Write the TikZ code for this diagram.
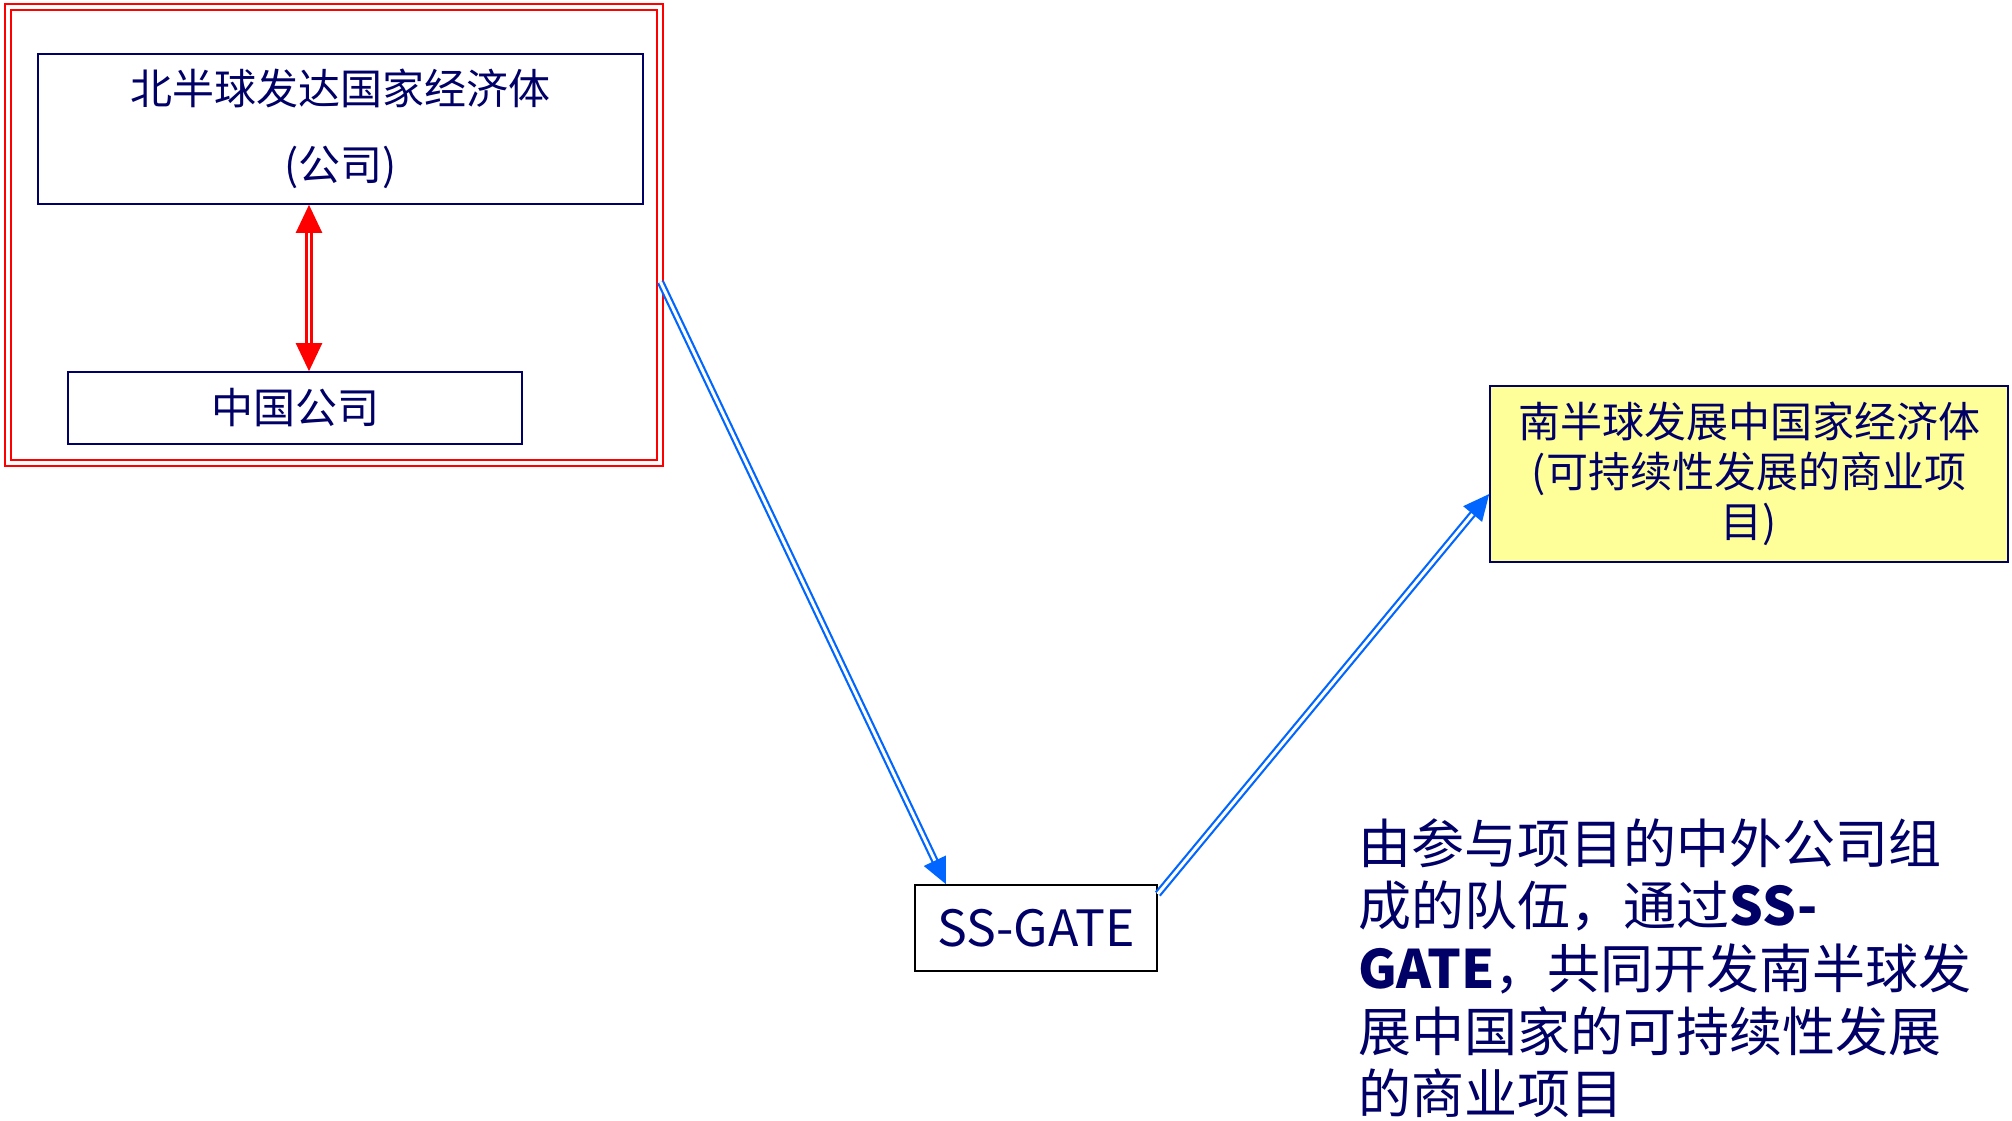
\documentclass[tikz,border=0pt]{standalone}
\usepackage{fontspec}
\setmainfont{Noto Sans CJK SC}
\usetikzlibrary{arrows.meta}
\definecolor{navy}{RGB}{0,0,102}
\definecolor{linkblue}{RGB}{0,102,255}
\definecolor{paleyellow}{RGB}{255,255,153}

\begin{document}
\begin{tikzpicture}[x=0.5pt,y=-0.5pt,
   box/.style={draw=navy,line width=0.8pt,text=navy,align=center,inner sep=0pt},
   link/.style={draw=linkblue,double,double distance=1.5pt,line width=1.1pt,
     -{Triangle[length=13pt,width=12pt]}}]

\useasboundingbox (0,0) rectangle (2012,1120);

\node (frame) [draw=red,double,double distance=2pt,line width=1pt,
   minimum width=326pt,minimum height=228pt] at (333.5,235) {};
\node (north) [box,minimum width=302.5pt,minimum height=75pt,
   font=\fontsize{21}{38}\selectfont] at (340.5,129) {北半球发达国家经济体\\(公司)};
\node (cn) [box,minimum width=227pt,minimum height=36pt,
   font=\fontsize{21}{25}\selectfont] at (295,408) {中国公司};
\coordinate (ax) at (309,0);
\draw [red,double,double distance=1.4pt,line width=1.1pt,
   {Triangle[length=14pt,width=13pt]}-{Triangle[length=14pt,width=13pt]}]
   (north.south -| ax) -- (cn.north -| ax);

\node (gate) [box,draw=black,minimum width=121pt,minimum height=43pt,
   font=\fontsize{25}{28}\selectfont] at (1036,928) {SS-GATE};
\node (south) [box,fill=paleyellow,minimum width=259pt,minimum height=88pt,
   font=\fontsize{21}{25}\selectfont] at (1749,474)
   {南半球发展中国家经济体\\(可持续性发展的商业项\\目)};
\node (note) [anchor=north west,text=navy,align=left,inner sep=0pt,
   font=\fontsize{26.5}{31.3}\selectfont] at (1358,818)
   {由参与项目的中外公司组\\成的队伍，通过\textbf{SS-}\\\textbf{GATE}，共同开发南半球发\\展中国家的可持续性发展\\的商业项目};

\draw [link] ([yshift=-23.5pt]frame.east) -- ([xshift=-45pt]gate.north);
\draw [link] ([yshift=17pt]gate.east) -- ([yshift=-10pt]south.west);
\end{tikzpicture}
\end{document}
